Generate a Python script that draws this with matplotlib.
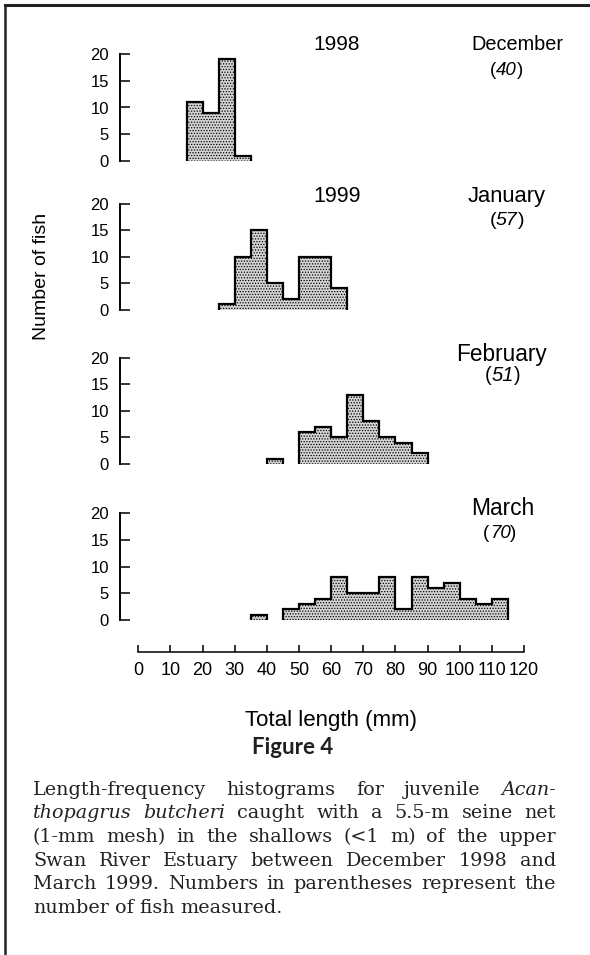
import numpy as np
import matplotlib
matplotlib.use("Agg")
import matplotlib.pyplot as plt
from matplotlib.lines import Line2D

plt.rcParams['font.family'] = ['Liberation Sans', 'DejaVu Sans']
plt.rcParams['hatch.linewidth'] = 0.6

# 5-mm length classes: first class start (mm) and counts per class
months = ['December', 'January', 'February', 'March']
years = ['1998', '1999']
n_fish = [40, 57, 51, 70]
starts = [15, 25, 40, 35]
dec_counts = [11, 9, 19, 1]
jan_counts = [1, 10, 15, 5, 2, 10, 10, 4]
feb_counts = [1, 0, 6, 7, 5, 13, 8, 5, 4, 2]
mar_counts = [1, 0, 2, 3, 4, 8, 5, 5, 8, 2, 8, 6, 7, 4, 3, 4]
all_counts = [dec_counts, jan_counts, feb_counts, mar_counts]
bin_width = 5
y_ticks = [0, 5, 10, 15, 20]
x_ticks = list(range(0, 121, 10))

W, H = 590, 955
fig = plt.figure(figsize=(W / 100, H / 100), dpi=100)
renderer = fig.canvas.get_renderer()


def fx(x):
    return x / W


def fy(y):
    return 1 - y / H


# panel placement in pixels (top, bottom)
panel_px = [(54, 161), (203.5, 309.5), (357.7, 464), (513.3, 620)]
x_left, x_right = 120, 524
xlim = (-5.7, 120)

for i, (top, bot) in enumerate(panel_px):
    ax = fig.add_axes([fx(x_left), fy(bot), (x_right - x_left) / W, (bot - top) / H])
    counts = np.array(all_counts[i])
    edges = starts[i] + bin_width * np.arange(len(counts) + 1)
    # draw each run of non-empty classes as one outlined block
    j = 0
    while j < len(counts):
        if counts[j] == 0:
            j += 1
            continue
        k = j
        while k < len(counts) and counts[k] > 0:
            k += 1
        ax.stairs(counts[j:k], edges[j:k + 1], baseline=0, fill=True,
                  facecolor='#d4d4d4', edgecolor='black', hatch='......',
                  linewidth=1.6, clip_on=False)
        j = k
    ax.set_xlim(*xlim)
    ax.set_ylim(0, 20)
    for s in ['top', 'right', 'bottom']:
        ax.spines[s].set_visible(False)
    ax.spines['left'].set_linewidth(1.4)
    ax.set_xticks([])
    ax.set_yticks(y_ticks)
    ax.tick_params(axis='y', direction='in', length=7, width=1.1, pad=8, labelsize=12)

# shared length axis at the bottom
axx = fig.add_axes([fx(x_left), fy(652), (x_right - x_left) / W, 20 / H])
axx.set_xlim(*xlim)
axx.set_ylim(0, 1)
for s in ['top', 'right', 'left']:
    axx.spines[s].set_visible(False)
axx.spines['bottom'].set_bounds(0, 120)
axx.spines['bottom'].set_linewidth(1.1)
axx.set_yticks([])
axx.set_xticks(x_ticks)
axx.tick_params(axis='x', direction='in', length=5, width=1.1, pad=7, labelsize=13)
axx.patch.set_alpha(0)


def count_label(cx, cy, n, size):
    # "(n)" with the number in italics, centred on cx
    parts = [('(', 'normal'), (str(n), 'italic'), (')', 'normal')]
    texts = [fig.text(0, fy(cy), p, ha='left', va='baseline', fontsize=size, style=st)
             for p, st in parts]
    widths = [t.get_window_extent(renderer).width for t in texts]
    x = cx - sum(widths) / 2
    for t, w in zip(texts, widths):
        t.set_x(fx(x))
        x += w


# panel labels
fig.text(fx(337), fy(50), years[0], ha='center', va='baseline', fontsize=15)
fig.text(fx(337), fy(201.7), years[1], ha='center', va='baseline', fontsize=15.5)

month_pos = [(517, 50, 14.3), (507, 201.7, 15.8), (501, 361, 16.3), (503, 515, 16.4)]
count_pos = [(506.7, 75, 13.5), (506.7, 225, 14), (502.7, 381, 14.5), (500, 538.3, 13.5)]
for i in range(4):
    mx, my, ms = month_pos[i]
    fig.text(fx(mx), fy(my), months[i], ha='center', va='baseline', fontsize=ms)
    cx, cy, cs = count_pos[i]
    count_label(cx, cy, n_fish[i], cs)

fig.text(fx(42), fy(276), 'Number of fish', rotation=90, ha='center', va='center',
         fontsize=14)
fig.text(fx(331), fy(726), 'Total length (mm)', ha='center', va='baseline', fontsize=16)

# frame lines (top and left)
fig.add_artist(Line2D([fx(5), fx(590)], [fy(5), fy(5)], color='#222222', lw=2.2))
fig.add_artist(Line2D([fx(5), fx(5)], [fy(5), fy(955)], color='#222222', lw=1.8))

# caption
fig.text(fx(293), fy(747), 'Figure 4', ha='center', va='center', fontsize=16,
         fontweight='bold', family=['Lato', 'DejaVu Sans'], color='#231f20')

caption_lines = [
    [('Length-frequency', False), ('histograms', False), ('for', False),
     ('juvenile', False), ('Acan-', True)],
    [('thopagrus', True), ('butcheri', True), ('caught', False), ('with', False),
     ('a', False), ('5.5-m', False), ('seine', False), ('net', False)],
    [('(1-mm', False), ('mesh)', False), ('in', False), ('the', False),
     ('shallows', False), ('(<1', False), ('m)', False), ('of', False),
     ('the', False), ('upper', False)],
    [('Swan', False), ('River', False), ('Estuary', False), ('between', False),
     ('December', False), ('1998', False), ('and', False)],
    [('March', False), ('1999.', False), ('Numbers', False), ('in', False),
     ('parentheses', False), ('represent', False), ('the', False)],
    [('number', False), ('of', False), ('fish', False), ('measured.', False)],
]
cap_y = [790, 813.5, 837, 860.5, 884, 907.5]
cap_left, cap_right = 33, 556
cap_size = 13.8
for li, words in enumerate(caption_lines):
    texts = []
    for w, it in words:
        t = fig.text(0, fy(cap_y[li]), w, ha='left', va='center', fontsize=cap_size,
                     family='DejaVu Serif', style='italic' if it else 'normal',
                     color='#222222')
        texts.append(t)
    widths = [t.get_window_extent(renderer).width for t in texts]
    if li == len(caption_lines) - 1:
        space = 0.3 * cap_size * 100 / 72
    else:
        space = (cap_right - cap_left - sum(widths)) / (len(words) - 1)
    x = cap_left
    for t, wdt in zip(texts, widths):
        t.set_x(fx(x))
        x += wdt + space

fig.savefig('out.png', dpi=100)
